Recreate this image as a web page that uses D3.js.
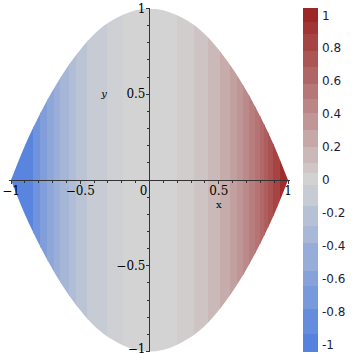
<!DOCTYPE html>
<html>
<head>
<meta charset="utf-8">
<script src="https://cdn.jsdelivr.net/npm/d3@7"></script>
<style>
  body { margin: 0; background: #fff; }
  svg { display: block; }
</style>
</head>
<body>
<svg id="viz" width="355" height="355"></svg>
<script>
// strip edges along x and the colour value of each strip
var stripEdges = [-1, -0.84, -0.79, -0.74, -0.69, -0.645, -0.58, -0.53, -0.45, -0.31, -0.19,
                  0.196, 0.321, 0.424, 0.51, 0.578, 0.631, 0.678, 0.722, 0.763, 0.799, 0.83, 0.858, 0.894, 0.94, 1];
var stripValues = [-0.92, -0.75, -0.62, -0.52, -0.43, -0.34, -0.26, -0.18, -0.09, -0.03,
                   0,
                   0.034, 0.083, 0.149, 0.218, 0.285, 0.347, 0.41, 0.476, 0.539, 0.6, 0.654, 0.718, 0.805, 0.927];

// outline of the region, y = +/- boundaryY
var boundaryX = [-1, -0.9, -0.8, -0.7, -0.6, -0.5, -0.4, -0.2, 0, 0.2, 0.4, 0.5, 0.6, 0.7, 0.8, 0.9, 1];
var boundaryY = [0, 0.2, 0.37, 0.52, 0.65, 0.76, 0.85, 0.96, 1, 0.96, 0.85, 0.76, 0.65, 0.52, 0.37, 0.2, 0];

// colour bar bands and labels
var barEdges = [-1, -0.9, -0.75, -0.62, -0.53, -0.37, -0.27, -0.15, -0.03, 0.04, 0.1, 0.19, 0.29, 0.39, 0.47, 0.56, 0.66, 0.75, 0.85, 0.92, 1];
var barTicks = [1, 0.8, 0.6, 0.4, 0.2, 0, -0.2, -0.4, -0.6, -0.8, -1];
var barLabels = ["1", "0.8", "0.6", "0.4", "0.2", "0", "-0.2", "-0.4", "-0.6", "-0.8", "-1"];

var xTicks = [-1, -0.5, 0.5, 1];
var xTickLabels = ["\u22121", "\u22120.5", "0.5", "1"];
var yTicks = [1, 0.5, -0.5, -1];
var yTickLabels = ["1", "0.5", "\u22120.5", "\u22121"];

var svg = d3.select("#viz");

var x = d3.scaleLinear().domain([-1, 1]).range([11, 288]);
var y = d3.scaleLinear().domain([-1, 1]).range([351.5, 8.5]);

var color = d3.scaleLinear()
    .domain([-1, 0, 1])
    .range(["#4e7ee0", "#d3d3d3", "#9b2020"]);

// clip to the region
var area = d3.area()
    .x(function(d) { return x(d[0]); })
    .y0(function(d) { return y(-d[1]); })
    .y1(function(d) { return y(d[1]); })
    .curve(d3.curveMonotoneX);

svg.append("clipPath").attr("id", "region")
    .append("path")
    .attr("d", area(boundaryX.map(function(v, i) { return [v, boundaryY[i]]; })));

svg.append("g").attr("clip-path", "url(#region)")
    .selectAll("rect")
    .data(stripValues)
    .enter().append("rect")
    .attr("x", function(d, i) { return x(stripEdges[i]); })
    .attr("width", function(d, i) { return x(stripEdges[i + 1]) - x(stripEdges[i]) + 0.5; })
    .attr("y", y(1))
    .attr("height", y(-1) - y(1))
    .attr("fill", function(d) { return color(d); })
    .attr("shape-rendering", "crispEdges");

// axes through the origin
var ax = svg.append("g").attr("stroke", "#333").attr("shape-rendering", "crispEdges");
ax.append("line").attr("x1", x(-1) - 2).attr("x2", x(1) + 2).attr("y1", y(0)).attr("y2", y(0));
ax.append("line").attr("x1", x(0)).attr("x2", x(0)).attr("y1", y(1)).attr("y2", y(-1));

var minor = d3.range(-10, 11).map(function(k) { return k / 10; });
ax.selectAll(".xt").data(minor).enter().append("line")
    .attr("x1", function(d) { return x(d); }).attr("x2", function(d) { return x(d); })
    .attr("y1", y(0)).attr("y2", function(d) { return y(0) + (Math.abs(d * 2) % 1 < 1e-6 ? 4 : 3); });
ax.selectAll(".yt").data(minor).enter().append("line")
    .attr("y1", function(d) { return y(d); }).attr("y2", function(d) { return y(d); })
    .attr("x1", x(0)).attr("x2", function(d) { return x(0) - (Math.abs(d * 2) % 1 < 1e-6 ? 4 : 3); });

var serif = "'DejaVu Serif', 'Liberation Serif', serif";

svg.selectAll(".xl").data(xTicks).enter().append("text")
    .attr("x", function(d) { return x(d); })
    .attr("y", y(0) + 15)
    .attr("text-anchor", "middle")
    .style("font", "12px " + serif)
    .text(function(d, i) { return xTickLabels[i]; });

svg.append("text").attr("x", x(0) - 6).attr("y", y(0) + 15)
    .attr("text-anchor", "middle").style("font", "12px " + serif).text("0");

svg.selectAll(".yl").data(yTicks).enter().append("text")
    .attr("x", x(0) - 4)
    .attr("y", function(d) { return Math.min(y(d) + 4, 353); })
    .attr("text-anchor", "end")
    .style("font", "12px " + serif)
    .text(function(d, i) { return yTickLabels[i]; });

svg.append("text").attr("x", x(0.5)).attr("y", y(0) + 28)
    .attr("text-anchor", "middle").style("font", "10px " + serif).text("x");
svg.append("text").attr("x", 104).attr("y", y(0.5) + 3)
    .attr("text-anchor", "middle").style("font", "italic 10px " + serif).text("y");

// colour bar
var bar = d3.scaleLinear().domain([-1, 1]).range([351, 8]);
var barLabelPos = d3.scaleLinear().domain([-1, 1]).range([344, 15]);
var barBands = barEdges.slice(0, -1).map(function(v, i) { return [v, barEdges[i + 1]]; });
svg.append("g").selectAll("rect").data(barBands).enter().append("rect")
    .attr("x", 303).attr("width", 15)
    .attr("y", function(d) { return bar(d[1]); })
    .attr("height", function(d) { return bar(d[0]) - bar(d[1]) + 0.5; })
    .attr("fill", function(d) { return color((d[0] + d[1]) / 2); })
    .attr("shape-rendering", "crispEdges");

svg.selectAll(".bl").data(barTicks).enter().append("text")
    .attr("x", 322)
    .attr("y", function(d) { return barLabelPos(d) + 4.5; })
    .style("font", "12px 'DejaVu Sans', sans-serif")
    .attr("fill", "#1c1c3c")
    .text(function(d, i) { return barLabels[i]; });
</script>
</body>
</html>
